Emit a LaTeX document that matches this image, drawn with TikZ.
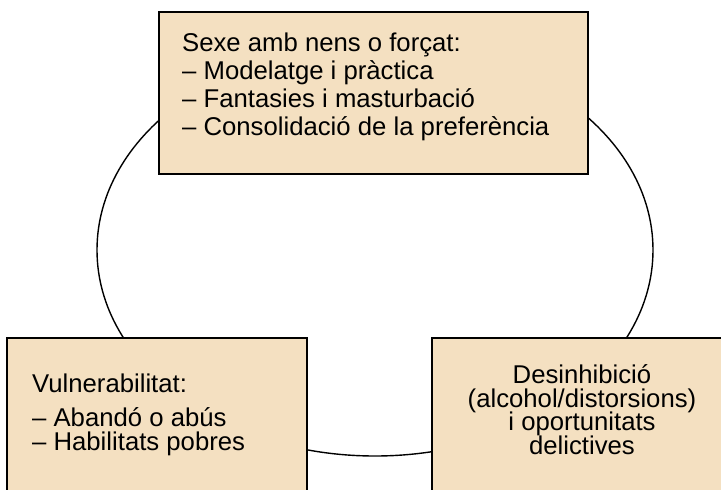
\documentclass[tikz,border=0pt]{standalone}
\usepackage{fontspec}
\setmainfont{Liberation Sans}
\definecolor{boxfill}{RGB}{244,224,193}
\setlength{\lineskiplimit}{-20pt}
\setlength{\lineskip}{0pt}
\begin{document}
\begin{tikzpicture}[x=1pt,y=-1pt,
  box/.style={draw=black, line width=1.6pt, fill=boxfill, rectangle, inner sep=0pt},
  txt/.style={inner sep=0pt, font=\fontsize{25.7}{27.8}\selectfont}]
\useasboundingbox (0,0) rectangle (721,490);
\clip (0,0) rectangle (721,490);
\draw[line width=1.4pt] (375,250) ellipse [x radius=278, y radius=206];
\path[box] (159,12) rectangle (588,174) coordinate (topbox);
\path[box] (7,338) rectangle (307,520) coordinate (leftbox);
\path[box] (432,338) rectangle (740,520) coordinate (rightbox);
\node[txt, anchor=north west, align=left] (t1) at (182,32.9)
  {Sexe amb nens o forçat:\\– Modelatge i pràctica\\– Fantasies i masturbació\\– Consolidació de la preferència};
\node[txt, anchor=north west, align=left, font=\fontsize{25.7}{24}\selectfont] (t2) at (32,373.2)
  {Vulnerabilitat:\\[10pt]– Abandó o abús\\– Habilitats pobres};
\node[txt, anchor=north, align=center, font=\fontsize{25.7}{23.8}\selectfont] (t3) at (582,364.2)
  {Desinhibició\\(alcohol/distorsions)\\i oportunitats\\delictives};
\end{tikzpicture}
\end{document}
